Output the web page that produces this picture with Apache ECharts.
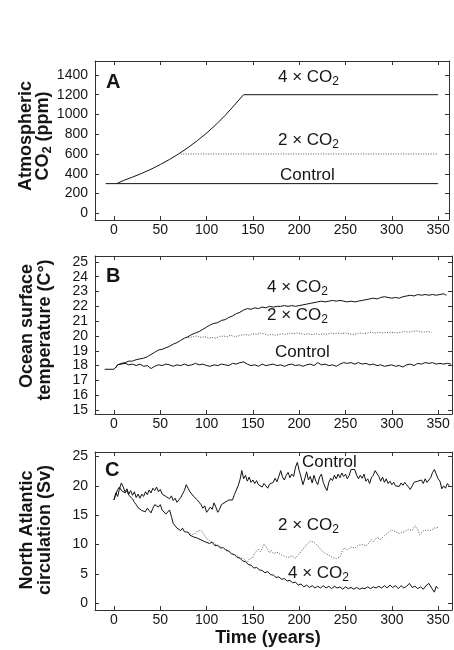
<!DOCTYPE html>
<html>
<head>
<meta charset="utf-8">
<script src="https://cdn.jsdelivr.net/npm/echarts@6/dist/echarts.min.js"></script>
<style>
html,body{margin:0;padding:0;background:#fff;}
#c{width:454px;height:650px;}
</style>
</head>
<body>
<div id="c"></div>
<script>
// ---------- tick labels ----------
const yearTicks = [0, 50, 100, 150, 200, 250, 300, 350];
const co2Ticks = [0, 200, 400, 600, 800, 1000, 1200, 1400];
const sstTicks = [15, 16, 17, 18, 19, 20, 21, 22, 23, 24, 25];
const amocTicks = [0, 5, 10, 15, 20, 25];

// ---------- Panel A: atmospheric CO2 (ppm) ----------
const aControl = [[-9, 300], [350, 300]];
const a4x = [[3, 300], [10, 331], [20, 366], [30, 404], [40, 446], [50, 493], [60, 545], [70, 602],
  [80, 665], [90, 735], [100, 811], [110, 896], [120, 990], [130, 1094], [140, 1200], [350, 1200]];
const a2x = [[72, 600], [350, 600]];

// ---------- Panel B: ocean surface temperature (C) ----------
const bControl = [[-10,17.75],[0,17.75],[2,17.85],[4,18.05],[8,18.1],[12,18.15],[16,18.05],[20,18.1],[24,18.0],[28,18.1],
  [32,17.95],[36,18.0],[40,17.8],[44,17.95],[48,18.05],[52,18.0],[56,18.1],[60,18.05],[64,17.95],[68,18.05],
  [72,18.0],[76,18.1],[80,18.0],[84,18.05],[88,18.15],[92,18.05],[96,18.1],[100,18.0],[104,17.95],[108,18.05],
  [112,18.0],[116,18.1],[120,18.05],[124,18.0],[128,18.15],[132,18.1],[136,18.2],[140,18.25],[144,18.1],[148,18.0],
  [152,18.05],[156,17.95],[160,18.1],[164,18.0],[168,18.05],[172,18.1],[176,18.0],[180,18.05],[184,17.95],[188,18.05],
  [192,18.1],[196,18.0],[200,18.05],[204,17.95],[208,18.05],[212,18.1],[216,18.0],[220,18.2],[224,18.05],[228,18.1],
  [232,18.0],[236,18.05],[240,17.95],[244,18.1],[248,18.2],[252,18.15],[256,18.2],[260,18.1],[264,18.2],[268,18.1],
  [272,18.15],[276,18.05],[280,18.1],[284,18.0],[288,18.05],[292,17.95],[296,18.0],[300,18.05],[304,17.95],[308,18.0],
  [312,17.9],[316,18.05],[320,18.1],[324,18.0],[328,18.15],[332,18.1],[336,18.2],[340,18.15],[344,18.2],[348,18.1],
  [352,18.15],[356,18.1],[360,18.15],[364,18.1]];
const b4x = [[2,17.85],[4,18.05],[8,18.15],[12,18.2],[16,18.3],[20,18.3],[24,18.4],[28,18.45],[32,18.5],[36,18.6],
  [40,18.75],[44,18.9],[48,19.05],[52,19.1],[56,19.2],[60,19.3],[64,19.45],[68,19.55],[72,19.7],[76,19.85],
  [80,19.95],[84,20.1],[88,20.2],[92,20.3],[96,20.45],[100,20.6],[104,20.75],[108,20.85],[112,20.9],[116,21.05],
  [120,21.1],[124,21.25],[128,21.35],[132,21.5],[136,21.6],[140,21.75],[144,21.85],[148,21.8],[152,21.9],[156,21.85],
  [160,21.95],[164,21.9],[168,22.0],[172,21.95],[176,22.0],[180,22.0],[184,22.05],[188,22.0],[192,22.05],[196,22.0],
  [200,22.05],[204,22.1],[208,22.15],[212,22.2],[216,22.25],[220,22.3],[224,22.35],[228,22.3],[232,22.35],[236,22.4],
  [240,22.35],[244,22.4],[248,22.35],[252,22.3],[256,22.35],[260,22.3],[264,22.35],[268,22.4],[272,22.45],[276,22.5],
  [280,22.55],[284,22.5],[288,22.6],[292,22.65],[296,22.6],[300,22.55],[304,22.6],[308,22.55],[312,22.65],[316,22.7],
  [320,22.75],[324,22.7],[328,22.8],[332,22.75],[336,22.8],[340,22.75],[344,22.8],[348,22.75],[352,22.8],[356,22.85],[359,22.75]];
const b2x = [[80,19.9],[82,19.9],[86,19.95],[90,20.0],[94,19.9],[98,19.95],[102,19.85],[106,19.9],[110,19.85],[114,19.95],
  [118,20.0],[122,19.95],[126,20.05],[130,19.95],[134,20.0],[138,20.05],[142,20.1],[146,20.05],[150,20.15],[154,20.1],
  [158,20.2],[162,20.15],[166,20.05],[170,20.1],[174,20.05],[178,20.1],[182,20.15],[186,20.1],[190,20.2],[194,20.15],
  [198,20.2],[202,20.15],[206,20.1],[210,20.15],[214,20.1],[218,20.15],[222,20.1],[226,20.15],[230,20.1],[234,20.2],
  [238,20.15],[242,20.2],[246,20.15],[250,20.2],[254,20.15],[258,20.1],[262,20.15],[266,20.2],[270,20.15],[274,20.2],
  [278,20.25],[282,20.2],[286,20.25],[290,20.2],[294,20.25],[298,20.2],[302,20.25],[306,20.2],[310,20.25],[314,20.3],
  [318,20.25],[322,20.3],[326,20.35],[330,20.3],[334,20.25],[338,20.3],[343,20.25]];

// ---------- Panel C: North Atlantic circulation (Sv) ----------
const cControl = [[0,17.6],[2,18.8],[4,18.2],[6,19.6],[8,20.5],[10,19.8],[12,19.0],[14,19.5],[16,18.6],[18,19.2],
  [20,18.4],[22,19.0],[24,18.0],[26,18.6],[28,17.9],[30,18.6],[32,18.2],[34,19.0],[36,18.5],[38,19.3],
  [40,18.8],[42,19.6],[44,19.2],[46,19.8],[48,19.0],[50,19.4],[52,18.6],[54,18.9],[56,18.2],[58,18.5],
  [60,17.8],[62,18.3],[64,17.5],[66,17.9],[68,17.2],[70,17.6],[72,18.0],[74,18.6],[76,19.2],[78,20.2],
  [80,19.6],[82,19.0],[84,18.8],[86,18.2],[88,18.4],[90,17.6],[92,17.2],[94,16.8],[96,16.2],[98,16.6],
  [100,15.5],[102,15.9],[104,16.4],[106,16.0],[108,17.1],[110,16.4],[112,15.5],[114,16.0],[116,16.8],[118,16.6],
  [120,17.2],[122,17.0],[124,17.6],[126,17.9],[128,17.6],[130,18.5],[132,18.8],[134,20.0],[136,21.0],[138,22.6],
  [140,21.2],[142,21.8],[144,20.8],[146,21.5],[148,20.6],[150,21.0],[152,20.4],[154,20.9],[156,20.2],[158,20.5],
  [160,19.8],[162,20.4],[164,20.0],[166,19.6],[168,20.3],[170,20.0],[172,20.6],[174,21.3],[176,20.7],[178,21.6],
  [180,22.6],[182,21.5],[184,21.0],[186,21.8],[188,22.3],[190,21.4],[192,22.0],[194,21.6],[196,23.2],[198,24.0],
  [200,22.6],[202,21.5],[204,20.2],[206,21.2],[208,22.4],[210,21.0],[212,21.6],[214,20.5],[216,21.8],[218,20.8],
  [220,20.2],[222,21.5],[224,22.0],[226,20.6],[228,19.8],[230,19.2],[232,20.6],[234,21.3],[236,20.9],[238,21.8],
  [240,21.2],[242,22.0],[244,21.4],[246,22.2],[248,21.6],[250,22.0],[252,21.2],[254,21.8],[256,22.8],[258,22.6],
  [260,22.8],[262,21.8],[264,21.2],[266,21.8],[268,21.3],[270,22.0],[272,20.8],[274,21.2],[276,20.4],[278,21.4],
  [280,21.8],[282,22.6],[284,22.9],[286,21.6],[288,20.8],[290,21.5],[292,20.6],[294,21.2],[296,20.4],[298,20.8],
  [300,20.2],[302,20.6],[304,20.0],[306,20.3],[308,19.9],[310,20.5],[312,20.1],[314,20.6],[316,20.2],[318,19.8],
  [320,19.4],[322,20.0],[324,20.6],[326,20.3],[328,20.8],[330,20.6],[332,21.0],[334,20.4],[336,21.2],[338,20.6],
  [340,20.4],[342,21.4],[344,22.3],[346,22.8],[348,22.0],[350,21.2],[352,20.8],[354,19.5],[356,20.0],[358,19.6],
  [360,20.4],[362,20.0]];
const c4x = [[0,17.6],[2,18.6],[4,19.4],[6,19.8],[8,19.2],[10,19.5],[12,18.8],[14,19.2],[16,18.4],[18,18.7],
  [20,17.8],[22,17.2],[24,16.8],[26,16.3],[28,16.6],[30,15.8],[32,16.0],[34,15.6],[36,16.2],[38,15.8],
  [40,15.4],[42,16.2],[44,16.8],[46,17.1],[48,16.4],[50,16.8],[52,15.9],[54,15.6],[56,15.2],[58,15.5],
  [60,15.9],[62,14.8],[64,13.6],[66,13.2],[68,12.8],[70,13.0],[72,12.4],[74,12.8],[76,12.2],[78,11.9],
  [80,12.1],[82,11.6],[84,11.8],[86,11.3],[88,11.5],[90,11.1],[92,11.3],[94,10.8],[96,10.9],[98,10.5],
  [100,10.6],[103,10.2],[106,10.4],[109,9.8],[112,9.9],[115,9.4],[118,9.5],[121,9.0],[124,8.9],[127,8.4],
  [130,8.3],[133,7.8],[136,7.7],[139,7.2],[142,7.1],[145,6.6],[148,6.5],[151,6.0],[154,6.1],[157,5.7],
  [160,5.6],[163,5.2],[166,5.4],[169,4.9],[172,4.8],[175,4.4],[178,4.5],[181,4.1],[184,4.2],[187,3.8],
  [190,3.9],[193,3.5],[196,3.6],[199,3.1],[202,3.3],[205,2.8],[208,3.1],[211,2.7],[214,3.0],[217,2.6],
  [220,2.9],[223,2.6],[226,3.0],[229,2.6],[232,2.9],[235,2.5],[238,2.9],[241,2.6],[244,2.8],[247,2.4],
  [250,2.8],[253,2.5],[256,2.7],[259,2.4],[262,2.7],[265,2.4],[268,2.6],[271,2.5],[274,2.8],[277,2.5],
  [280,2.8],[283,2.6],[286,2.9],[289,2.6],[292,3.0],[295,2.6],[298,3.1],[301,2.7],[304,3.0],[307,2.5],
  [310,3.0],[313,2.6],[316,2.9],[319,3.4],[322,2.7],[325,2.9],[328,2.5],[331,2.8],[334,2.4],[337,3.0],
  [340,3.4],[343,2.6],[346,1.9],[348,2.9],[350,2.5]];
const c2x = [[80,12.1],[84,11.7],[88,11.9],[90,12.3],[92,12.6],[94,12.4],[96,12.0],[100,11.0],[104,10.6],[108,10.2],
  [112,9.8],[116,9.6],[120,9.3],[124,8.9],[128,8.4],[132,8.2],[136,7.8],[140,7.6],[144,7.0],[146,7.5],
  [148,7.2],[150,7.8],[152,8.6],[154,8.4],[156,9.2],[158,8.8],[160,9.4],[162,10.1],[164,10.3],[166,9.2],
  [168,8.6],[170,9.0],[172,8.5],[176,8.7],[180,8.3],[184,8.0],[188,7.8],[192,8.1],[196,7.7],[200,8.4],
  [204,9.2],[208,10.0],[212,10.6],[216,10.4],[220,9.8],[224,9.0],[228,8.5],[232,8.2],[236,7.8],[240,7.6],
  [242,7.4],[244,7.9],[246,8.7],[248,9.4],[252,9.1],[256,9.6],[260,9.4],[264,9.9],[268,10.0],[272,9.8],
  [276,10.4],[278,10.9],[280,10.5],[284,11.2],[288,10.9],[292,11.5],[296,12.0],[300,12.5],[304,12.2],[308,11.9],
  [310,11.6],[314,12.2],[318,12.6],[322,12.4],[325,13.2],[328,12.6],[330,11.7],[334,12.3],[338,12.5],[342,12.4],
  [346,12.8],[350,12.9]];

// ---------- layout ----------
const FONT = 'Liberation Sans';
const INK = '#151515';
const grids = [
  { left: 95, top: 61, width: 354, height: 159 },
  { left: 95, top: 256, width: 357, height: 158 },
  { left: 95, top: 452, width: 357, height: 158 }
];
const xRanges = [[-20.5, 361.8], [-20.5, 365], [-20.5, 365]];
const yRanges = [[-68, 1541], [14.73, 25.4], [-1.14, 25.77]];
const yTickSets = [co2Ticks, sstTicks, amocTicks];
const plain = function (v) { return String(Math.round(v * 1000) / 1000); };

const axisLine = { show: true, onZero: false, lineStyle: { color: '#333', width: 1 } };
const xAxes = [], yAxes = [];
for (let g = 0; g < 3; g++) {
  xAxes.push({
    type: 'value', gridIndex: g, position: 'bottom', min: xRanges[g][0], max: xRanges[g][1],
    axisLine: axisLine, splitLine: { show: false },
    axisTick: { show: true, inside: true, length: 4, customValues: yearTicks, lineStyle: { color: '#333' } },
    axisLabel: { show: true, customValues: yearTicks, formatter: plain, margin: 3, fontFamily: FONT, fontSize: 14, color: INK }
  });
  xAxes.push({
    type: 'value', gridIndex: g, position: 'top', min: xRanges[g][0], max: xRanges[g][1],
    axisLine: axisLine, splitLine: { show: false },
    axisTick: { show: true, inside: true, length: 4, customValues: yearTicks, lineStyle: { color: '#333' } },
    axisLabel: { show: false }
  });
  yAxes.push({
    type: 'value', gridIndex: g, position: 'left', min: yRanges[g][0], max: yRanges[g][1],
    axisLine: axisLine, splitLine: { show: false },
    axisTick: { show: true, inside: true, length: 4, customValues: yTickSets[g], lineStyle: { color: '#333' } },
    axisLabel: { show: true, customValues: yTickSets[g], formatter: plain, margin: 7, fontFamily: FONT, fontSize: 14, color: INK }
  });
  yAxes.push({
    type: 'value', gridIndex: g, position: 'right', min: yRanges[g][0], max: yRanges[g][1],
    axisLine: axisLine, splitLine: { show: false },
    axisTick: { show: true, inside: true, length: 4, customValues: yTickSets[g], lineStyle: { color: '#333' } },
    axisLabel: { show: false }
  });
}

function line(data, g, dotted) {
  return {
    type: 'line', data: data, xAxisIndex: g * 2, yAxisIndex: g * 2,
    showSymbol: false, symbol: 'none', smooth: false, animation: false, silent: true,
    lineStyle: dotted ? { color: '#555', width: 1, type: [1, 1.5] } : { color: '#111', width: 1 }
  };
}

// ---------- text ----------
function txt(x, y, text) {
  return {
    type: 'text', x: x, y: y, silent: true,
    style: { text: text, fill: INK, font: '17px "' + FONT + '"', align: 'left', verticalAlign: 'middle' }
  };
}
function co2Label(x, y, prefix) {
  return {
    type: 'text', x: x, y: y, silent: true,
    style: {
      text: '{m|' + prefix + 'CO}{s|2}', align: 'left', verticalAlign: 'middle', fill: INK,
      rich: {
        m: { fontFamily: FONT, fontSize: 17, color: INK },
        s: { fontFamily: FONT, fontSize: 12, color: INK, padding: [9, 0, 0, 0] }
      }
    }
  };
}
function vtitle(x, y, text, rich) {
  const el = {
    type: 'text', x: x, y: y, rotation: Math.PI / 2, silent: true,
    style: { text: text, fill: INK, align: 'center', verticalAlign: 'middle', font: 'bold 18px "' + FONT + '"' }
  };
  if (rich) {
    el.style.rich = rich;
  }
  return el;
}
const subRich = {
  m: { fontFamily: FONT, fontSize: 18, fontWeight: 'bold', color: INK },
  s: { fontFamily: FONT, fontSize: 13, fontWeight: 'bold', color: INK, padding: [9, 0, 0, 0] }
};
function letter(x, y, t) {
  return { type: 'text', x: x, y: y, silent: true, style: { text: t, fill: INK, font: 'bold 20px "' + FONT + '"', align: 'left', verticalAlign: 'middle' } };
}

const graphics = [
  letter(106, 82, 'A'),
  letter(106, 276, 'B'),
  letter(105, 470, 'C'),
  co2Label(278, 77, '4 × '),
  co2Label(278, 140, '2 × '),
  txt(280, 175, 'Control'),
  co2Label(267, 287, '4 × '),
  co2Label(267, 315, '2 × '),
  txt(275, 352, 'Control'),
  txt(302, 462, 'Control'),
  co2Label(278, 525, '2 × '),
  co2Label(288, 573, '4 × '),
  vtitle(26, 136, 'Atmospheric'),
  vtitle(43, 136, '{m|CO}{s|2}{m| (ppm)}', subRich),
  vtitle(27, 326, 'Ocean surface'),
  vtitle(45, 330, 'temperature (C°)'),
  vtitle(27, 530, 'North Atlantic'),
  vtitle(45, 530, 'circulation (Sv)'),
  { type: 'text', x: 268, y: 638, silent: true, style: { text: 'Time (years)', fill: INK, font: 'bold 18px "' + FONT + '"', align: 'center', verticalAlign: 'middle' } }
];

const chart = echarts.init(document.getElementById('c'), null, { renderer: 'canvas' });
chart.setOption({
  backgroundColor: '#fff',
  animation: false,
  grid: grids,
  xAxis: xAxes,
  yAxis: yAxes,
  series: [
    line(aControl, 0), line(a4x, 0), line(a2x, 0, true),
    line(bControl, 1), line(b4x, 1), line(b2x, 1, true),
    line(cControl, 2), line(c4x, 2), line(c2x, 2, true)
  ],
  graphic: graphics
});
</script>
</body>
</html>
